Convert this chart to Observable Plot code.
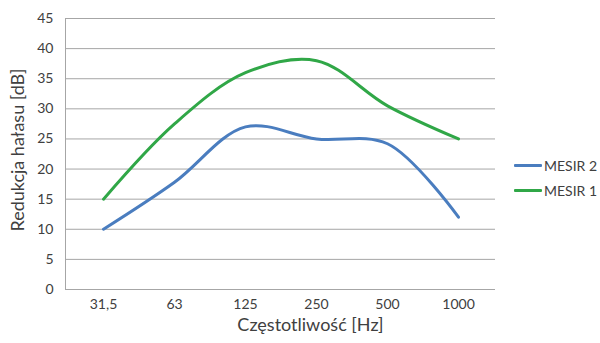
<!DOCTYPE html>
<html>
<head>
<meta charset="utf-8">
<script src="https://cdn.jsdelivr.net/npm/d3@7"></script>
<script src="https://cdn.jsdelivr.net/npm/@observablehq/plot@0.6"></script>
<style>
  body { margin: 0; background: #fff; font-family: Lato, "Open Sans", sans-serif; }
  #wrap { position: relative; width: 600px; height: 343px; }
  .legend { position: absolute; left: 514px; font-size: 14px; color: #404040; display: flex; align-items: center; }
  .legend span.sw { display: inline-block; width: 28px; height: 3px; margin-right: 2px; border-radius: 1px; }
</style>
</head>
<body>
<div id="wrap"></div>
<script>
const categories = ["31,5", "63", "125", "250", "500", "1000"];
const mesir2 = [10, 17.8, 27, 25, 24.2, 12];
const mesir1 = [15, 27.5, 36, 38, 30.5, 25];
const seriesNames = ["MESIR 2", "MESIR 1"];
const seriesColors = ["#4a7dbf", "#30a747"];
const yTicks = [0, 5, 10, 15, 20, 25, 30, 35, 40, 45];

const rows = [];
categories.forEach((c, i) => {
  rows.push({ cat: c, v: mesir2[i], s: seriesNames[0] });
  rows.push({ cat: c, v: mesir1[i], s: seriesNames[1] });
});

const font = "Lato, 'Open Sans', sans-serif";
const chart = Plot.plot({
  width: 600,
  height: 343,
  marginLeft: 65,
  marginRight: 105,
  marginTop: 18,
  marginBottom: 54,
  style: { fontFamily: font, fontSize: "14px", color: "#404040", background: "#fff" },
  x: { type: "point", domain: categories, padding: 0.5, label: null },
  y: { domain: [0, 45], ticks: yTicks, label: null },
  color: { domain: seriesNames, range: seriesColors },
  marks: [
    Plot.gridY(yTicks, { stroke: "#a6a6a6", strokeOpacity: 1, strokeWidth: 1 }),
    Plot.frame({ anchor: "left", stroke: "#a6a6a6", strokeWidth: 1 }),
    Plot.axisY(yTicks, { tickSize: 0, tickPadding: 12, fontSize: 14, fill: "#404040" }),
    Plot.axisX({ tickSize: 0, tickPadding: 10, fontSize: 14, fill: "#404040" }),
    Plot.line(rows, { x: "cat", y: "v", z: "s", stroke: "s", strokeWidth: 3, curve: "catmull-rom" }),
    Plot.text(["Redukcja hałasu [dB]"], { frameAnchor: "left", textAnchor: "middle", rotate: -90, dx: -47, dy: -4, fontSize: 18, fill: "#404040" }),
    Plot.text(["Częstotliwość [Hz]"], { frameAnchor: "bottom", dy: 41, dx: 30, fontSize: 18, fill: "#404040" })
  ]
});

const wrap = document.getElementById("wrap");
wrap.appendChild(chart);
seriesNames.forEach((name, i) => {
  const d = document.createElement("div");
  d.className = "legend";
  d.style.top = (157 + i * 25) + "px";
  d.innerHTML = `<span class="sw" style="background:${seriesColors[i]}"></span>${name}`;
  wrap.appendChild(d);
});
</script>
</body>
</html>
